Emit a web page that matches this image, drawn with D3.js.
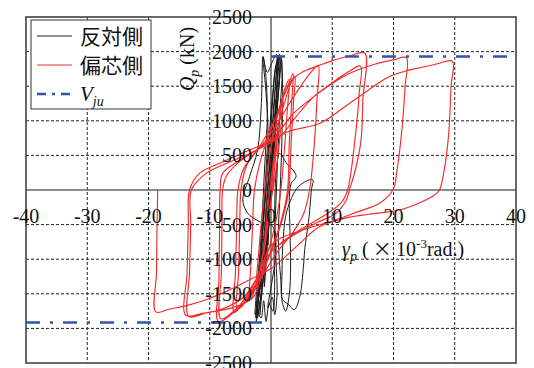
<!DOCTYPE html>
<html>
<head>
<meta charset="utf-8">
<script src="https://cdn.jsdelivr.net/npm/d3@7"></script>
<style>
  html, body { margin: 0; padding: 0; background: #fff; }
  svg { display: block; }
  .serif { font-family: "Liberation Serif", "Times New Roman", "DejaVu Serif", serif; }
  .cjk { font-family: "Noto Sans CJK JP", "Noto Sans CJK SC", sans-serif; }
</style>
</head>
<body>
<svg id="chart" width="534" height="368"></svg>
<script>
// Axis ticks
const xTicks = [-40, -30, -20, -10, 0, 10, 20, 30, 40];
const yTicks = [-2500, -2000, -1500, -1000, -500, 0, 500, 1000, 1500, 2000, 2500];

// Series names
const seriesNames = ["反対側", "偏芯側"];

// Joint shear capacity V_ju (kN): positive side from 0 to +40, negative side from -40 to 0
const vjuLevels = [1930, -1915];
const vjuSpans = [[0, 40], [-40, 0]];

// 反対側 : shear force Qp (kN) vs. panel shear strain γp (×10^-3 rad)
const oppositeSide = [
  [0,0],[0.2,400],[0.4,800],[0.2,400],[-0.1,0],[-0.3,-400],[-0.5,-800],[-0.3,-400],[0,0],
  [0.3,500],[0.6,1000],[0.8,1300],[0.6,900],[0.2,300],[-0.2,-300],[-0.6,-800],[-0.9,-1200],[-1.1,-1400],[-0.8,-900],[-0.4,-300],[0.0,200],
  [0.4,700],[0.8,1200],[1.0,1600],[1.2,1850],[0.9,1400],[0.4,800],[-0.2,100],[-0.7,-600],[-1.2,-1200],[-1.6,-1600],[-1.8,-1800],[-1.5,-1300],[-1.0,-600],[-0.5,0],
  [0.0,600],[0.5,1200],[0.9,1700],[1.4,1950],[1.0,1500],[0.6,900],[0.1,200],[-0.5,-500],[-1.0,-1100],[-1.6,-1500],[-2.2,-1850],[-1.9,-1400],[-1.4,-700],[-0.9,0],
  [-0.5,500],[-0.1,1000],[0.4,1500],[0.8,1800],[1.6,1930],[1.3,1500],[0.8,900],[0.3,300],[-0.3,-400],[-0.9,-1000],[-1.6,-1500],[-2.4,-1900],[-2.0,-1500],[-1.6,-900],[-1.2,-300],
  [-0.8,300],[-0.5,900],[-0.9,1500],[-1.3,1920],[-0.6,1700],[0.2,1850],[0.9,1960],[1.4,1700],[1.1,1300],[0.5,700],[0.0,100],[-0.6,-500],[-1.3,-1100],[-2.0,-1550],[-2.6,-1800],[-2.4,-1500],[-1.8,-900],[-1.4,-300],
  [-1.0,400],[-0.6,1100],[-0.9,1700],[-1.3,1930],[-1.6,1200],[-2.2,576],[-3.5,192],[-4.6,-144],[-3.8,-336],[-1.9,-456],[0.3,-528],[0.8,-900],[0.2,-1300],[-0.5,-1700],[0.2,-1550],[0.6,-1800],[1.0,-1500],[0.8,-1000],[0.6,-300],
  [0.9,300],[1.4,528],[2.6,380],[3.8,264],[4.1,192],[3.3,96],[3.0,-100],[3.1,-600],[3.2,-1100],[3.0,-1500],[2.4,-1750],[1.8,-1600],[1.8,-1200],[2.0,-700],[2.6,-300],
  [4.5,50],[6.8,150],[6.6,0],[6.2,-400],[5.5,-864],[5.3,-1105],[4.7,-1537],[3.8,-1729],[2.8,-1650],[1.9,-1585],[1.6,-1300],[1.2,-700],[1.5,0],[1.8,800],[1.9,1500],[1.7,1900],
  [1.2,1500],[0.5,800],[-0.3,0],[-1.0,-800],[-1.8,-1400],[-2.5,-1850],[-2.1,-1400],[-1.5,-700],[-0.8,0],
  [-0.3,600],[0.2,1200],[0.6,1650],[1.1,1940],[0.7,1500],[0.1,800],[-0.6,0],[-1.2,-700],[-1.9,-1300],[-2.3,-1700],[-1.6,-1850],[-1.2,-1600],[-0.8,-1900],[-0.3,-1650],[0.3,-1750],
  [0.6,-1400],[0.5,-900],[0.8,-200],[1.1,500],[1.5,1200],[1.8,1700],[1.4,1960],[0.8,1700]
];

// 偏芯側 : shear force Qp (kN) vs. panel shear strain γp (×10^-3 rad)
const eccentricSide = [
  [0,0],[0.6,500],[1.2,900],[0.9,600],[0.2,0],[-0.5,-500],[-1.2,-950],[-0.9,-600],[-0.2,0],
  [0.5,500],[1.3,1000],[2.0,1350],[1.6,900],[1.0,400],[0.3,0],[-0.6,-450],[-1.5,-1000],[-2.4,-1350],[-2.0,-900],[-1.5,-400],[-1.0,0],
  [-0.4,400],[0.4,800],[1.3,1150],[2.4,1500],[3.0,1600],[2.7,1200],[2.2,600],[1.6,0],[0.8,-450],[-0.5,-900],[-2.0,-1300],[-3.5,-1600],[-3.3,-1100],[-3.0,-500],[-2.7,0],
  [-1.8,400],[-0.5,750],[0.8,1050],[2.0,1350],[3.0,1560],[3.6,1680],[3.4,1300],[3.0,700],[2.7,0],[1.8,-400],[0.3,-800],[-1.5,-1200],[-3.5,-1550],[-5.5,-1720],[-5.3,-1200],[-5.1,-500],[-4.9,0],
  [-4.0,350],[-2.4,560],[-0.8,780],[0.8,1050],[2.2,1380],[3.2,1560],[3.9,1640],[3.7,1300],[3.3,700],[2.9,0],[2.0,-380],[0.5,-780],[-1.4,-1180],[-3.6,-1520],[-6.0,-1770],[-5.8,-1200],[-5.6,-500],[-5.4,0],
  [-4.5,300],[-3.0,500],[-1.0,700],[1.0,950],[3.0,1250],[5.0,1520],[6.5,1700],[7.7,1800],[7.5,1300],[7.1,700],[6.3,0],[5.3,-350],[3.5,-620],[1.0,-900],[-1.5,-1250],[-4.0,-1580],[-6.5,-1800],[-8.6,-1900],[-8.5,-1300],[-8.4,-600],[-8.3,0],
  [-7.9,240],[-5.1,430],[-2.0,600],[0.5,800],[2.0,1200],[3.6,1600],[5.5,1720],[7.6,1790],[10.0,1870],[13.0,1940],[15.3,1980],[15.0,1300],[14.7,720],[13.8,300],[12.8,0],[12.3,-144],[10.6,-336],[7.5,-470],[5.2,-576],[2.5,-720],[0.0,-900],[-1.5,-1250],[-3.0,-1560],[-6.3,-1700],[-10.6,-1777],[-13.4,-1830],[-13.3,-1200],[-13.1,-500],[-13.0,0],
  [-10.6,240],[-7.3,384],[-3.5,528],[1.4,768],[4.0,1050],[7.0,1350],[10.0,1550],[12.5,1700],[14.6,1790],[14.4,1400],[13.8,800],[12.5,0],[11.5,-180],[8.5,-380],[5.0,-560],[2.0,-740],[-0.5,-950],[-3.0,-1400],[-5.5,-1700],[-8.2,-1860],[-8.1,-1200],[-8.0,-500],[-7.9,0],
  [-7.3,200],[-5.0,420],[-2.0,600],[0.5,760],[3.6,1100],[7.0,1350],[11.7,1632],[14.0,1730],[17.2,1825],[20.0,1880],[22.1,1912],[21.9,1500],[21.4,900],[20.6,300],[19.9,0],[17.7,-192],[14.0,-320],[10.6,-432],[5.2,-576],[1.5,-700],[-0.2,-817],[-2.2,-1250],[-4.5,-1550],[-8.0,-1720],[-11.0,-1780],[-13.9,-1810],[-13.7,-1200],[-13.5,-500],[-13.3,0],
  [-11.7,240],[-8.0,400],[-4.0,560],[-0.2,700],[3.0,850],[7.9,961],[12.0,1200],[16.0,1450],[19.3,1640],[22.0,1720],[24.8,1777],[27.0,1820],[29.6,1860],[29.4,1500],[29.0,800],[28.3,300],[27.5,0],[26.7,-72],[24.2,-187],[21.0,-288],[16.0,-350],[12.3,-403],[7.9,-530],[4.0,-830],[0.2,-1124],[-3.5,-1297],[-7.3,-1465],[-10.6,-1585],[-13.8,-1671],[-16.5,-1720],[-18.8,-1762],[-18.7,-1200],[-18.6,-500],[-18.5,0]
];

const svg = d3.select("#chart");
const plotL = 26, plotR = 516, plotT = 17, plotB = 363;

const x = d3.scaleLinear().domain([-40, 40]).range([plotL, plotR]);
const y = d3.scaleLinear().domain([-2500, 2500]).range([plotB, plotT]);

// dashed grid
const grid = svg.append("g").attr("stroke", "#222").attr("stroke-width", 1).attr("stroke-dasharray", "3,2").attr("fill", "none");
grid.selectAll("line.gx").data(xTicks.filter(d => d !== 0 && Math.abs(d) !== 40)).join("line")
  .attr("x1", d => x(d)).attr("x2", d => x(d)).attr("y1", plotT).attr("y2", plotB);
grid.selectAll("line.gy").data(yTicks.filter(d => d !== 0 && Math.abs(d) !== 2500)).join("line")
  .attr("x1", plotL).attr("x2", plotR).attr("y1", d => y(d)).attr("y2", d => y(d));

// zero axes
svg.append("line").attr("x1", plotL).attr("x2", plotR).attr("y1", y(0)).attr("y2", y(0))
  .attr("stroke", "#666").attr("stroke-width", 1.6);
svg.append("line").attr("x1", x(0)).attr("x2", x(0)).attr("y1", plotT).attr("y2", plotB)
  .attr("stroke", "#111").attr("stroke-width", 1);

// frame
svg.append("rect").attr("x", plotL).attr("y", plotT).attr("width", plotR - plotL).attr("height", plotB - plotT)
  .attr("fill", "none").attr("stroke", "#444").attr("stroke-width", 1.6);

const line = d3.line().x(d => x(d[0])).y(d => y(d[1])).curve(d3.curveCatmullRom.alpha(0.5));

svg.append("path").datum(oppositeSide).attr("d", line)
  .attr("fill", "none").attr("stroke", "#1a1a1a").attr("stroke-width", 1).attr("stroke-linejoin", "round");
svg.append("path").datum(eccentricSide).attr("d", line)
  .attr("fill", "none").attr("stroke", "#f42a2a").attr("stroke-width", 1.15).attr("stroke-linejoin", "round");

// V_ju levels
svg.selectAll("line.vju").data(vjuLevels).join("line")
  .attr("x1", (d, i) => x(vjuSpans[i][0])).attr("x2", (d, i) => x(vjuSpans[i][1]))
  .attr("y1", d => y(d)).attr("y2", d => y(d))
  .attr("stroke", "#3452a8").attr("stroke-width", 2.6).attr("stroke-dasharray", "14,10,3,10");

// tick labels
svg.append("g").selectAll("text").data(xTicks).join("text")
  .attr("class", "serif")
  .attr("x", d => x(d)).attr("y", y(0) + 33)
  .attr("text-anchor", "middle").attr("font-size", 20).attr("fill", "#111")
  .text(d => d);
svg.append("g").selectAll("text").data(yTicks).join("text")
  .attr("class", "serif")
  .attr("x", x(0) - 19).attr("y", d => y(d) + 7)
  .attr("text-anchor", "end").attr("font-size", 20).attr("fill", "#111")
  .text(d => d);

// axis titles
const yt = svg.append("text").attr("class", "serif").attr("transform", "translate(194,59) rotate(-90)")
  .attr("text-anchor", "middle").attr("font-size", 20).attr("fill", "#111");
yt.append("tspan").attr("font-style", "italic").text("Q");
yt.append("tspan").attr("font-style", "italic").attr("font-size", 14).attr("dy", 5).text("p");
yt.append("tspan").attr("dy", -5).text(" (kN)");

const xt = svg.append("text").attr("class", "serif").attr("x", 342).attr("y", 256)
  .attr("font-size", 20).attr("fill", "#111");
xt.append("tspan").attr("font-style", "italic").text("γ");
xt.append("tspan").attr("font-style", "italic").attr("font-size", 14).attr("dy", 5).text("p");
xt.append("tspan").attr("dy", -5).text(" (");
xt.append("tspan").attr("class", "cjk").attr("font-size", 19).text(" × ");
xt.append("tspan").text("10");
xt.append("tspan").attr("font-size", 13).attr("dy", -8).text("-3");
xt.append("tspan").attr("dy", 8).text("rad.)");

// legend
const lg = svg.append("g");
lg.append("rect").attr("x", 31).attr("y", 20).attr("width", 120).attr("height", 89)
  .attr("fill", "#fff").attr("stroke", "#333").attr("stroke-width", 1);
const legendRows = [
  { label: seriesNames[0], color: "#1a1a1a", w: 1, dash: null, y: 36 },
  { label: seriesNames[1], color: "#f42a2a", w: 1.1, dash: null, y: 65 },
  { label: null, color: "#3452a8", w: 2.6, dash: "9,6,3,6", y: 94 }
];
legendRows.forEach(r => {
  lg.append("line").attr("x1", 37).attr("x2", 72).attr("y1", r.y).attr("y2", r.y)
    .attr("stroke", r.color).attr("stroke-width", r.w).attr("stroke-dasharray", r.dash);
  if (r.label) {
    lg.append("text").attr("class", "cjk").attr("x", 80).attr("y", r.y + 8).attr("font-size", 21)
      .attr("fill", "#111").text(r.label);
  }
});
const vt = lg.append("text").attr("class", "serif").attr("x", 80).attr("y", 101).attr("font-size", 21)
  .attr("font-style", "italic").attr("fill", "#111");
vt.append("tspan").text("V");
vt.append("tspan").attr("font-size", 14).attr("dy", 5).text("ju");
</script>
</body>
</html>
